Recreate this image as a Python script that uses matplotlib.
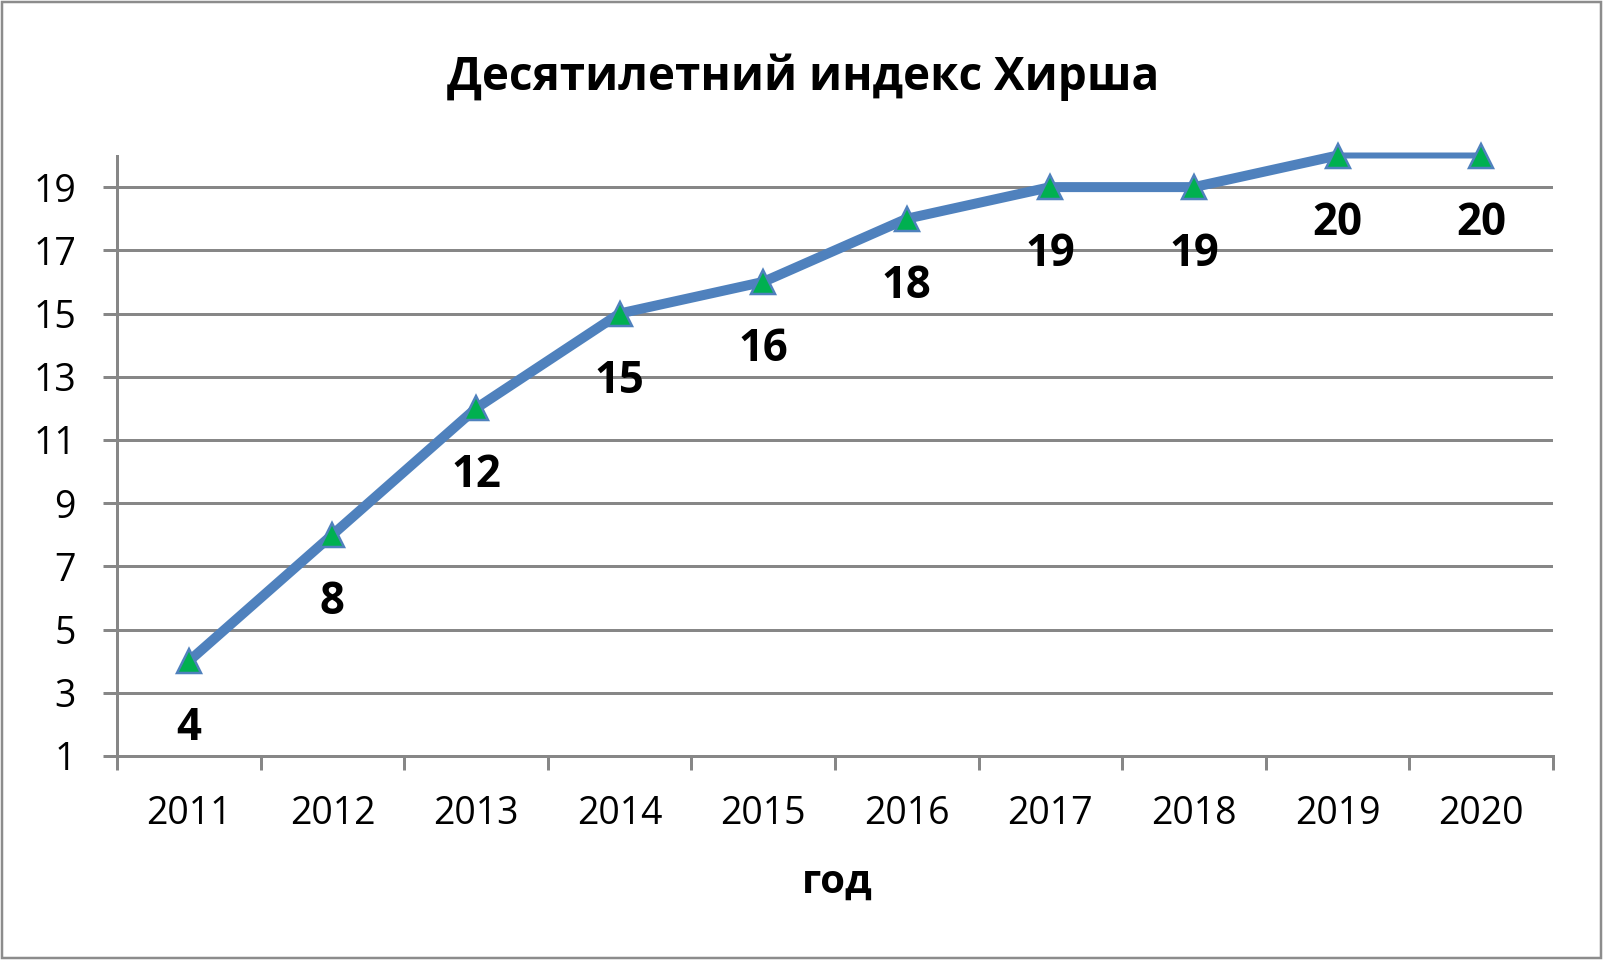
import matplotlib
matplotlib.use('Agg')
import matplotlib.pyplot as plt
import numpy as np
from matplotlib.patches import Rectangle

# ---- data ----
years = ['2011', '2012', '2013', '2014', '2015', '2016', '2017', '2018', '2019', '2020']
h_index = [4, 8, 12, 15, 16, 18, 19, 19, 20, 20]
y_ticks = [1, 3, 5, 7, 9, 11, 13, 15, 17, 19]
title_text = 'Десятилетний индекс Хирша'
xlabel_text = 'год'

# ---- style ----
W, H = 1608, 966
plt.rcParams['font.family'] = ['Open Sans', 'DejaVu Sans']


def px(v):
    return v * 0.72  # pixels -> points at dpi 100


gray = '#878787'
blue = '#4F81BD'
green = '#00B050'

fig = plt.figure(figsize=(W / 100, H / 100), dpi=100)
fig.patch.set_facecolor('white')
fig.patches.append(Rectangle((2 / W, 1 - 958 / H), (1601 - 2) / W, (958 - 2) / H,
                             transform=fig.transFigure, fill=False,
                             edgecolor='#8c8c8c', lw=px(2.5)))

ax = fig.add_axes([117 / W, 1 - 756 / H, (1553 - 117) / W, (756 - 155.5) / H])
x = np.arange(len(years))
ax.set_xlim(-0.5, len(years) - 0.5)
ax.set_ylim(1, 20)

ax.set_yticks(y_ticks)
ax.grid(axis='y', color=gray, lw=px(3))
ax.set_axisbelow(True)
for s in ['top', 'right']:
    ax.spines[s].set_visible(False)
for s in ['left', 'bottom']:
    ax.spines[s].set_color(gray)
    ax.spines[s].set_linewidth(px(3))

ax.plot(x, h_index, color=blue, lw=px(6), zorder=3, clip_on=False)
ax.plot(x[:-1], h_index[:-1], color=blue, lw=px(10), solid_joinstyle='round',
        zorder=3, clip_on=False)
ax.plot(x, h_index, ls='none', marker='^', ms=px(24), mfc=green, mec=blue,
        mew=px(2.5), zorder=4, clip_on=False)

for xi, v in zip(x, h_index):
    ax.annotate(str(v), (xi, v), xytext=(0, -px(79)), textcoords='offset points',
                ha='center', va='baseline', fontsize=31.5, fontweight='bold',
                color='black', zorder=5)

ax.set_xticks(x)
ax.set_xticklabels(years)
ax.set_xticks(np.arange(-0.5, len(years)), minor=True)
ax.tick_params(axis='x', which='major', length=0, pad=px(39), labelsize=27)
ax.tick_params(axis='x', which='minor', length=px(14), width=px(3), color=gray,
               direction='out')
ax.tick_params(axis='y', length=px(14), width=px(3), color=gray, direction='out',
               pad=px(27), labelsize=27)

fig.text(803 / W, 1 - 90 / H, title_text, ha='center', va='baseline',
         fontsize=33, fontweight='bold')
fig.text(837 / W, 1 - 893 / H, xlabel_text, ha='center', va='baseline',
         fontsize=29, fontweight='bold')

fig.savefig('out.png', dpi=100, facecolor='white')
